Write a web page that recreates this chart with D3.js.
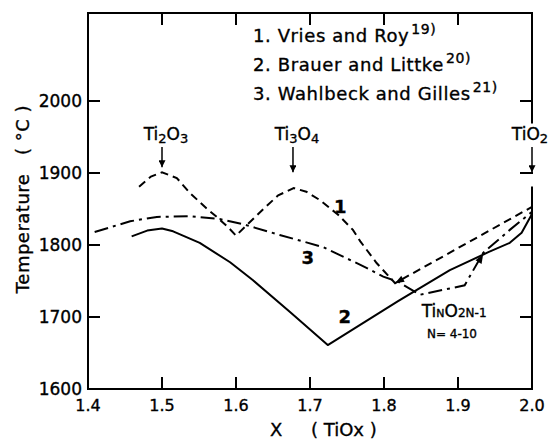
<!DOCTYPE html>
<html>
<head>
<meta charset="utf-8">
<script src="https://cdn.jsdelivr.net/npm/d3@7"></script>
<style>
  body { margin: 0; background: #fff; }
  text { font-family: "DejaVu Sans", sans-serif; fill: #000; stroke: #000; stroke-width: 0.35px; }
</style>
</head>
<body>
<svg class="chart" width="553" height="439"></svg>
<script>
// curve 1, Vries and Roy (dashed)
var vriesRoy = [
  [1.469, 1881], [1.485, 1895], [1.500, 1901], [1.520, 1893], [1.538, 1872],
  [1.560, 1851], [1.574, 1839], [1.589, 1825], [1.600, 1813], [1.636, 1849],
  [1.657, 1869], [1.678, 1879], [1.695, 1874], [1.714, 1862], [1.738, 1842],
  [1.758, 1821], [1.768, 1805], [1.790, 1775], [1.815, 1747], [2.000, 1853]
];
// curve 2, Brauer and Littke (solid)
var brauerLittke = [
  [1.459, 1812], [1.480, 1820], [1.500, 1823], [1.515, 1819], [1.551, 1803],
  [1.592, 1776], [1.623, 1751], [1.673, 1707], [1.724, 1661], [1.819, 1722],
  [1.889, 1765], [1.941, 1790], [1.970, 1803], [1.986, 1817], [2.000, 1843]
];
// curve 3, Wahlbeck and Gilles (dash-dot)
var wahlbeckGilles = [
  [1.409, 1818], [1.457, 1833], [1.493, 1839], [1.538, 1840], [1.578, 1836],
  [1.609, 1829], [1.659, 1814], [1.718, 1797], [1.777, 1768], [1.799, 1756],
  [1.819, 1749], [1.842, 1735], [1.849, 1731], [1.909, 1744], [1.934, 1789],
  [1.970, 1821], [2.000, 1846]
];

var xTickValues = [1.4, 1.5, 1.6, 1.7, 1.8, 1.9, 2.0];
var yTickValues = [1600, 1700, 1800, 1900, 2000];
var legendNames = ["1. Vries and Roy", "2. Brauer and Littke", "3. Wahlbeck and Gilles"];
var legendRefs = ["19)", "20)", "21)"];
var compoundX = [1.5, 1.677, 2.0];
var compoundParts = [
  [["Ti", 0], ["2", 1], ["O", 0], ["3", 1]],
  [["Ti", 0], ["3", 1], ["O", 0], ["4", 1]],
  [["Ti", 0], ["O", 0], ["2", 1]]
];

var svg = d3.select(".chart"),
    margin = {top: 13, right: 21, bottom: 50, left: 88},
    width = +svg.attr("width") - margin.left - margin.right,
    height = +svg.attr("height") - margin.top - margin.bottom,
    g = svg.append("g").attr("transform", "translate(" + margin.left + "," + margin.top + ")");

var x = d3.scaleLinear()
    .domain([1.4, 2.0])
    .range([0, width]);

var y = d3.scaleLinear()
    .domain([1600, 1600 + height / 0.72])
    .range([height, 0]);

var line = d3.line()
    .x(function(d) { return x(d[0]); })
    .y(function(d) { return y(d[1]); });

// frame
function seg(x1, y1, x2, y2) {
  g.append("line")
      .attr("x1", x1).attr("y1", y1).attr("x2", x2).attr("y2", y2)
      .attr("stroke", "#000")
      .attr("stroke-width", 2)
      .attr("stroke-linecap", "square");
}
seg(0, 0, 0, height);
seg(0, height, width, height);
seg(0, 0, width, 0);
seg(width, 0, width, y(1970));
seg(width, y(1880), width, height);

// ticks, all pointing inwards
xTickValues.slice(1, -1).forEach(function(v) {
  seg(x(v), height, x(v), height - 11);
  seg(x(v), 0, x(v), 11);
});
yTickValues.slice(1).forEach(function(v) {
  seg(0, y(v), 11, y(v));
  seg(width, y(v), width - 11, y(v));
});

g.selectAll(".xlab")
  .data(xTickValues)
  .enter().append("text")
    .attr("x", function(d) { return x(d); })
    .attr("y", height + 22)
    .attr("text-anchor", "middle")
    .style("font-size", "16px")
    .text(function(d) { return d3.format(".1f")(d); });

g.selectAll(".ylab")
  .data(yTickValues)
  .enter().append("text")
    .attr("x", -6)
    .attr("y", function(d) { return y(d); })
    .attr("dy", "0.36em")
    .attr("text-anchor", "end")
    .style("font-size", "17px")
    .text(function(d) { return d; });

// axis titles
svg.append("text")
    .attr("transform", "translate(29,199) rotate(-90)")
    .attr("text-anchor", "middle")
    .style("font-size", "18px")
    .style("letter-spacing", "0.5px")
    .style("white-space", "pre")
    .text("Temperature   ( °C )");

svg.append("text")
    .attr("x", 270)
    .attr("y", 436)
    .style("font-size", "18px")
    .style("white-space", "pre")
    .text("X     ( TiOx )");

// curves
g.append("path")
    .datum(vriesRoy)
    .attr("fill", "none")
    .attr("stroke", "#000")
    .attr("stroke-width", 2)
    .attr("stroke-dasharray", "8,5")
    .attr("d", line);

g.append("path")
    .datum(brauerLittke)
    .attr("fill", "none")
    .attr("stroke", "#000")
    .attr("stroke-width", 2)
    .attr("stroke-linejoin", "round")
    .attr("d", line);

g.append("path")
    .datum(wahlbeckGilles)
    .attr("fill", "none")
    .attr("stroke", "#000")
    .attr("stroke-width", 2)
    .attr("stroke-dasharray", "14,5,3,5")
    .attr("d", line);

// small arrowheads where the curves meet
function head(p, q) {
  var x0 = x(p[0]), y0 = y(p[1]),
      a = Math.atan2(y0 - y(q[1]), x0 - x(q[0])) * 180 / Math.PI;
  g.append("path")
      .attr("d", "M0,0L-9,-3.5L-9,3.5z")
      .attr("transform", "translate(" + x0 + "," + y0 + ") rotate(" + a + ")")
      .attr("fill", "#000");
}
head([1.815, 1747], [2.0, 1853]);
head([1.934, 1787], [1.909, 1744]);

// curve numbers
[["1", 1.741, 1853], ["3", 1.697, 1783], ["2", 1.747, 1700]].forEach(function(c) {
  g.append("text")
      .attr("x", x(c[1]))
      .attr("y", y(c[2]))
      .attr("dy", "0.36em")
      .attr("text-anchor", "middle")
      .style("font-size", "18px")
      .style("font-weight", "bold")
      .text(c[0]);
});

// compound markers with arrows
svg.append("defs").append("marker")
    .attr("id", "arrow")
    .attr("viewBox", "0 0 10 10")
    .attr("refX", 10).attr("refY", 5)
    .attr("markerWidth", 7).attr("markerHeight", 7)
    .attr("markerUnits", "userSpaceOnUse")
    .attr("orient", "auto")
  .append("path")
    .attr("d", "M0,0L10,5L0,10z")
    .attr("fill", "#000");

compoundX.forEach(function(cx, i) {
  var tipT = i === 0 ? 1908 : 1901;
  g.append("line")
      .attr("x1", x(cx)).attr("y1", y(1936))
      .attr("x2", x(cx)).attr("y2", y(tipT))
      .attr("stroke", "#000")
      .attr("stroke-width", 1.5)
      .attr("marker-end", "url(#arrow)");
  var t = g.append("text")
      .attr("x", x(cx) + (i === 2 ? -2 : 4))
      .attr("y", y(1946))
      .attr("text-anchor", "middle")
      .style("font-size", "17px");
  compoundParts[i].forEach(function(p) {
    t.append("tspan")
        .attr("baseline-shift", p[1] ? "-25%" : null)
        .style("font-size", p[1] ? "13px" : null)
        .text(p[0]);
  });
});

// Magneli phase label
var tn = g.append("text")
    .attr("x", x(1.851))
    .attr("y", y(1700))
    .style("font-size", "17px");
tn.append("tspan").text("Ti");
tn.append("tspan").style("font-size", "11px").text("N");
tn.append("tspan").text("O");
tn.append("tspan").style("font-size", "12px").text("2N-1");
g.append("text")
    .attr("x", x(1.858))
    .attr("y", y(1671))
    .style("font-size", "12px")
    .style("white-space", "pre")
    .text("N= 4-10");

// legend
legendNames.forEach(function(name, i) {
  var t = svg.append("text")
      .attr("x", 253)
      .attr("y", 42 + i * 29)
      .style("font-size", "18px")
      .style("letter-spacing", "0.6px")
      .text(name);
  t.append("tspan")
      .attr("dx", 2)
      .attr("dy", -8)
      .style("font-size", "14px")
      .text(legendRefs[i]);
});
</script>
</body>
</html>
